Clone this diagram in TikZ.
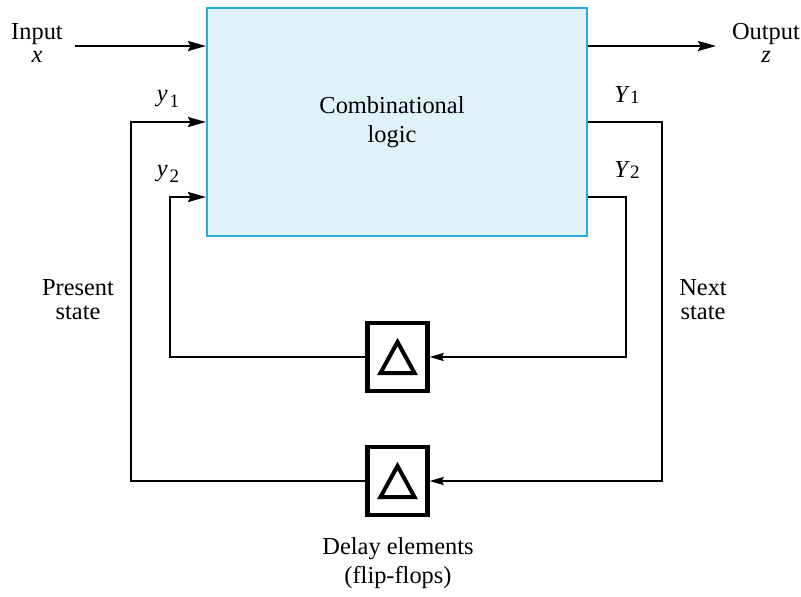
\documentclass[tikz,border=0pt]{standalone}
\usepackage{fontspec}
\setmainfont{Liberation Serif}
\usetikzlibrary{arrows.meta,calc}
\definecolor{boxfill}{RGB}{223,241,249}
\definecolor{boxline}{RGB}{41,171,226}
\newcommand{\sublab}[3]{{\itshape #1}\kern1pt\raisebox{#3}{\fontsize{9.5}{10}\selectfont #2}}
\begin{document}
\begin{tikzpicture}[x=0.5pt,y=-0.5pt,
  conn/.style={line width=1pt},
  arr/.style={conn,-{Stealth[length=9pt,width=5pt,inset=1.2pt]}},
  sarr/.style={conn,-{Stealth[length=7pt,width=4pt,inset=1pt]}},
  lbl/.style={font=\fontsize{12.2}{12}\selectfont, inner sep=0pt, anchor=base},
  logicbox/.style={draw=boxline, fill=boxfill, line width=1pt, minimum width=190pt, minimum height=114pt, inner sep=0pt},
  delaybox/.style={draw, line width=2.2pt, minimum width=30pt, minimum height=34pt, inner sep=0pt},
  tri/.style={line width=2pt, line join=miter}]
\useasboundingbox (0,0) rectangle (801,596);

% combinational logic block
\node[logicbox] (cl) at (397,122) {};
\node[lbl] (t1) at (392,113) {Combinational};
\node[lbl] (t2) at (392,142) {logic};

% delay elements
\node[delaybox] (d1) at (397.5,357) {};
\node[delaybox] (d2) at (397.5,481) {};
\draw[tri] ($(d1.center)+(0,-15)$) -- ($(d1.center)+(17,16)$) -- ($(d1.center)+(-17,16)$) -- cycle;
\draw[tri] ($(d2.center)+(0,-15)$) -- ($(d2.center)+(17,16)$) -- ($(d2.center)+(-17,16)$) -- cycle;

% input / output
\coordinate (in) at (75,46);
\coordinate (out) at (716,46);
\draw[arr] (in) -- (cl.west |- in);
\draw[arr] (cl.east |- out) -- (out);

% feedback loops
\coordinate (y2in) at ($(cl.west)+(0,75)$);
\coordinate (Y2out) at ($(cl.east)+(0,75)$);
\draw[arr] (d2.west) -| ($(cl.west)+(-75,0)$) -- (cl.west);
\draw[arr] (d1.west) -| ($(y2in)+(-36,0)$) -- (y2in);
\draw[sarr] (cl.east) -- ++(74,0) |- (d2.east);
\draw[sarr] (Y2out) -- ++(38,0) |- (d1.east);

% labels
\node[lbl] (lin1) at (37,39) {Input};
\node[lbl] (lin2) at (37,62) {\itshape x};
\node[lbl] (lout1) at (766,39) {Output};
\node[lbl] (lout2) at (766,62) {\itshape z};
\node[lbl] (ly1) at (168,101) {\sublab{y}{1}{-3pt}};
\node[lbl] (ly2) at (168,176) {\sublab{y}{2}{-3pt}};
\node[lbl] (lY1) at (627,102) {\sublab{Y}{1}{-0.8pt}};
\node[lbl] (lY2) at (627,177) {\sublab{Y}{2}{-0.8pt}};
\node[lbl] (lp1) at (78,295) {Present};
\node[lbl] (lp2) at (78,319) {state};
\node[lbl] (ln1) at (703,295) {Next};
\node[lbl] (ln2) at (703,319) {state};
\node[lbl] (ld1) at (398,554) {Delay elements};
\node[lbl] (ld2) at (398,583) {(flip-flops)};
\end{tikzpicture}
\end{document}
